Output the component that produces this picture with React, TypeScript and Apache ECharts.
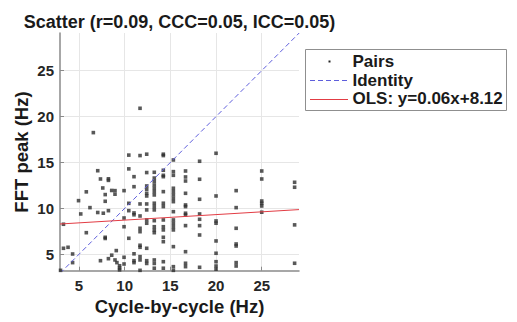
import React, { useEffect, useRef } from "react";
import * as echarts from "echarts";

const titleText = "Scatter (r=0.09, CCC=0.05, ICC=0.05)";
const xLabel = "Cycle-by-cycle (Hz)";
const yLabel = "FFT peak (Hz)";
const tickValues = [5, 10, 15, 20, 25];
const xLimits = [2.92, 29.08];
const yLimits = [3.21, 29.1];
const olsSlope = 0.06;
const olsIntercept = 8.12;
const legendNames = ["Pairs", "Identity", "OLS: y=0.06x+8.12"];

// cycle-by-cycle frequency (x) of each column of pairs
const columnX = [
  2.98, 3.3, 3.8, 4.3, 4.95, 5.19, 5.8, 6.2, 6.57, 7.05, 7.35, 7.6, 7.66, 7.87,
  8.22, 8.58, 8.94, 9.08, 9.15, 9.44, 9.93, 10.45, 11.02, 11.68, 12.41, 13.24,
  14.23, 15.33, 16.66, 18.2, 20.0, 22.2, 25.0, 28.6,
];
// FFT peak frequencies (y) for each column
const columnY = [
  [3.25],
  [8.27, 5.65],
  [5.76],
  [5.03, 4.09],
  [10.84],
  [9.39],
  [11.8, 7.35],
  [10.08],
  [18.25],
  [14.1, 9.55],
  [13.2, 4.3],
  [12.22],
  [9.47],
  [11.5, 10.77, 6.85, 6.72],
  [13.22, 13.05, 9.75, 4.52],
  [11.95, 4.9],
  [11.93, 11.54, 4.38],
  [5.4],
  [4.09],
  [3.75, 3.5, 3.3],
  [11.93, 8.95, 8.0, 4.67, 3.94],
  [15.8, 14.3, 10.55, 9.75, 6.74],
  [13.45, 12.36, 9.5, 9.3, 5.05, 4.3, 4.09],
  [20.9, 15.75, 10.48, 9.17, 7.83, 7.46, 5.98, 5.76, 4.74, 4.38, 3.25],
  [15.9, 13.9, 12.44, 12.08, 11.64, 11.35, 10.48, 9.83, 8.74, 8.38, 5.65, 4.3, 4.0],
  [13.93, 13.3, 12.95, 12.55, 12.19, 11.82, 11.46, 10.56, 10.19, 9.83, 8.66, 8.0, 7.65, 7.35, 4.38, 4.0, 3.48],
  [15.9, 15.75, 14.15, 13.6, 13.45, 11.82, 10.56, 10.19, 8.74, 8.0, 7.65, 6.85, 6.37, 4.19, 3.48],
  [15.27, 14.0, 13.6, 12.19, 11.82, 11.46, 11.09, 10.73, 9.64, 8.74, 8.38, 8.0, 7.65, 5.83, 3.65, 3.25],
  [14.07, 13.42, 12.98, 11.64, 10.37, 10.19, 9.47, 9.28, 8.12, 5.28, 4.02, 3.65],
  [15.13, 13.17, 10.99, 9.39, 8.81, 8.12, 7.1, 3.58],
  [16.0, 11.35, 8.63, 8.38, 6.45, 5.11, 4.19, 3.72, 3.37],
  [11.93, 10.08, 7.83, 6.12, 5.9, 4.09, 3.72],
  [14.07, 13.2, 10.8, 10.55, 10.26, 9.58],
  [12.84, 12.3, 8.2, 4.02],
];

const FONT = "'Liberation Sans', Arial, Helvetica, sans-serif";
const AXIS_COLOR = "#8a8a8a";
const IDENTITY_COLOR = "#5e5edc";
const OLS_COLOR = "#e23c44";

export default function App() {
  const ref = useRef<HTMLDivElement>(null);
  useEffect(() => {
    if (!ref.current) return;
    const chart = echarts.init(ref.current, null, { renderer: "svg" });
    const pairs: number[][] = [];
    columnX.forEach((x, i) => columnY[i].forEach((y) => pairs.push([x, y])));
    const lo = Math.min(xLimits[0], yLimits[0]);
    const hi = Math.max(xLimits[1], yLimits[1]);
    const olsData = xLimits.map((x) => [x, olsSlope * x + olsIntercept]);

    const axisCommon = (labelMargin: number) => ({
      type: "value",
      axisLine: { show: true, onZero: false, lineStyle: { color: AXIS_COLOR, width: 1.5 } },
      axisTick: {
        show: true,
        inside: true,
        length: 4,
        customValues: tickValues,
        lineStyle: { color: AXIS_COLOR, width: 1 },
      },
      axisLabel: {
        customValues: tickValues,
        color: "#262626",
        fontSize: 15,
        fontWeight: "bold",
        fontFamily: FONT,
        margin: labelMargin,
      },
      splitLine: {
        show: true,
        lineStyle: { color: "#e6e6e6", width: 1 },
      },
    });

    const textStyle = (text: string, size: number) => ({
      text,
      fontSize: size,
      fontWeight: "bold",
      fontFamily: FONT,
      fill: "#1a1a1a",
    });

    chart.setOption({
      animation: false,
      grid: { left: 60, top: 33, width: 239, height: 237.7, containLabel: false },
      xAxis: { ...axisCommon(7), min: xLimits[0], max: xLimits[1] },
      yAxis: { ...axisCommon(6), min: yLimits[0], max: yLimits[1] },
      series: [
        {
          type: "scatter",
          name: legendNames[0],
          data: pairs,
          symbol: "rect",
          symbolSize: 3.6,
          itemStyle: { color: "#2e2e2e" },
          silent: true,
        },
        {
          type: "line",
          name: legendNames[1],
          data: [
            [lo, lo],
            [hi, hi],
          ],
          symbol: "none",
          clip: true,
          lineStyle: { color: IDENTITY_COLOR, width: 1, type: [5, 3] },
          silent: true,
        },
        {
          type: "line",
          name: legendNames[2],
          data: olsData,
          symbol: "none",
          clip: true,
          lineStyle: { color: OLS_COLOR, width: 1 },
          silent: true,
        },
      ],
      graphic: [
        {
          type: "text",
          x: 179.5,
          y: 21.5,
          style: { ...textStyle(titleText, 18), align: "center", verticalAlign: "middle" },
        },
        {
          type: "text",
          x: 179.5,
          y: 306.5,
          style: { ...textStyle(xLabel, 18.5), align: "center", verticalAlign: "middle" },
        },
        {
          type: "text",
          x: 21,
          y: 152,
          rotation: Math.PI / 2,
          style: { ...textStyle(yLabel, 18.5), align: "center", verticalAlign: "middle" },
        },
        {
          type: "rect",
          shape: { x: 305.5, y: 49.5, width: 201, height: 61 },
          style: { fill: "#ffffff", stroke: "#8f8f8f", lineWidth: 1 },
        },
        {
          type: "rect",
          shape: { x: 328.5, y: 60.5, width: 2, height: 2 },
          style: { fill: "#222222" },
        },
        {
          type: "line",
          shape: { x1: 310, y1: 80.5, x2: 348, y2: 80.5 },
          style: { stroke: IDENTITY_COLOR, lineWidth: 1, lineDash: [5, 3] },
        },
        {
          type: "line",
          shape: { x1: 310, y1: 99.5, x2: 348, y2: 99.5 },
          style: { stroke: OLS_COLOR, lineWidth: 1 },
        },
        {
          type: "text",
          x: 352.5,
          y: 61.5,
          style: { ...textStyle(legendNames[0], 17), align: "left", verticalAlign: "middle" },
        },
        {
          type: "text",
          x: 352.5,
          y: 80,
          style: { ...textStyle(legendNames[1], 17), align: "left", verticalAlign: "middle" },
        },
        {
          type: "text",
          x: 352.5,
          y: 98.5,
          style: { ...textStyle(legendNames[2], 17), align: "left", verticalAlign: "middle" },
        },
      ],
    });
    return () => chart.dispose();
  }, []);
  return (
    <div
      ref={ref}
      style={{ position: "fixed", left: 0, top: 0, width: 517, height: 322, background: "#ffffff" }}
    />
  );
}
